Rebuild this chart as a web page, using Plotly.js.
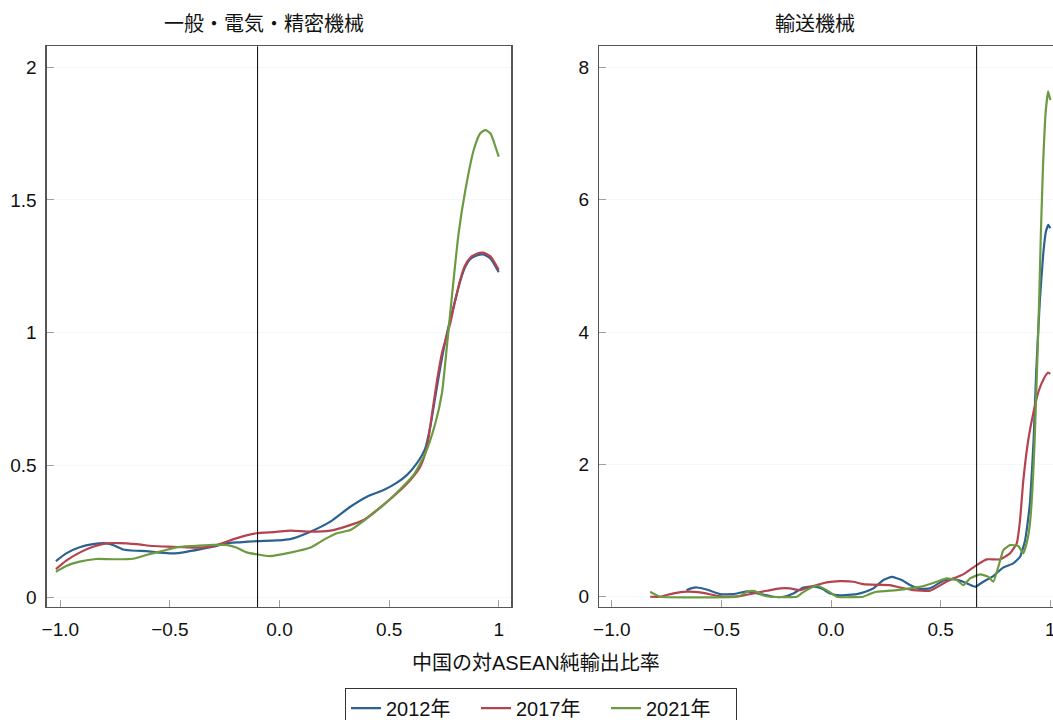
<!DOCTYPE html>
<html>
<head>
<meta charset="utf-8">
<script src="https://cdn.plot.ly/plotly-3.0.1.min.js"></script>
<style>
  html, body { margin: 0; padding: 0; background: #fff; overflow: hidden; }
  #chart { width: 1072px; height: 720px; }
</style>
</head>
<body>
<div id="chart"></div>
<script>
// ---------- data ----------
const seriesNames = ['2012年', '2017年', '2021年'];
const panelTitles = ['一般・電気・精密機械', '輸送機械'];
const xAxisTitle = '中国の対ASEAN純輸出比率';

// Left panel: 一般・電気・精密機械
const xL2012 = [-1.02, -0.973, -0.912, -0.851, -0.79, -0.76, -0.714, -0.653, -0.608, -0.547, -0.486, -0.425, -0.364, -0.303, -0.243, -0.182, -0.106, -0.015, 0.049, 0.141, 0.232, 0.323, 0.399, 0.475, 0.536, 0.582, 0.627, 0.665, 0.688, 0.711, 0.734, 0.764, 0.802, 0.825, 0.845, 0.87, 0.9, 0.93, 0.962, 1.0];
const yL2012 = [0.138, 0.167, 0.190, 0.202, 0.205, 0.199, 0.182, 0.177, 0.176, 0.170, 0.167, 0.173, 0.182, 0.192, 0.205, 0.209, 0.213, 0.216, 0.221, 0.249, 0.287, 0.343, 0.381, 0.406, 0.434, 0.463, 0.507, 0.563, 0.645, 0.758, 0.871, 0.997, 1.123, 1.195, 1.243, 1.276, 1.290, 1.294, 1.279, 1.227];

const xL2017 = [-1.02, -0.973, -0.912, -0.851, -0.79, -0.729, -0.653, -0.577, -0.486, -0.395, -0.319, -0.273, -0.212, -0.151, -0.106, -0.015, 0.049, 0.141, 0.232, 0.308, 0.384, 0.46, 0.536, 0.597, 0.642, 0.673, 0.696, 0.719, 0.741, 0.779, 0.80, 0.825, 0.845, 0.87, 0.9, 0.93, 0.962, 1.0];
const yL2017 = [0.108, 0.140, 0.170, 0.192, 0.205, 0.206, 0.202, 0.195, 0.192, 0.189, 0.192, 0.202, 0.220, 0.235, 0.243, 0.248, 0.253, 0.249, 0.253, 0.270, 0.293, 0.341, 0.394, 0.444, 0.494, 0.569, 0.695, 0.821, 0.922, 1.035, 1.115, 1.200, 1.250, 1.282, 1.297, 1.301, 1.287, 1.236];

const xL2021 = [-1.02, -0.973, -0.912, -0.836, -0.76, -0.668, -0.608, -0.531, -0.471, -0.395, -0.303, -0.243, -0.197, -0.151, -0.106, -0.045, 0.049, 0.141, 0.201, 0.262, 0.323, 0.399, 0.475, 0.551, 0.612, 0.665, 0.711, 0.741, 0.756, 0.771, 0.787, 0.817, 0.848, 0.886, 0.916, 0.939, 0.962, 0.985, 1.0];
const yL2021 = [0.098, 0.120, 0.136, 0.146, 0.145, 0.147, 0.161, 0.177, 0.190, 0.195, 0.199, 0.199, 0.189, 0.171, 0.164, 0.157, 0.170, 0.189, 0.218, 0.243, 0.255, 0.299, 0.350, 0.409, 0.463, 0.544, 0.658, 0.771, 0.884, 1.009, 1.140, 1.374, 1.537, 1.688, 1.751, 1.763, 1.751, 1.701, 1.663];

// Right panel: 輸送機械
const xR2012 = [-0.659, -0.635, -0.612, -0.567, -0.506, -0.445, -0.384, -0.323, -0.263, -0.217, -0.172, -0.126, -0.081, -0.04, -0.005, 0.041, 0.117, 0.160, 0.193, 0.239, 0.277, 0.322, 0.36, 0.406, 0.451, 0.512, 0.558, 0.603, 0.657, 0.694, 0.740, 0.786, 0.831, 0.862, 0.885, 0.896, 0.908, 0.924, 0.936, 0.952, 0.968, 0.98, 0.991, 1.0];
const yR2012 = [0.10, 0.13, 0.14, 0.11, 0.04, 0.04, 0.08, 0.04, 0.0, 0.0, 0.05, 0.14, 0.156, 0.12, 0.05, 0.02, 0.04, 0.08, 0.126, 0.252, 0.30, 0.252, 0.177, 0.116, 0.126, 0.242, 0.267, 0.227, 0.151, 0.227, 0.313, 0.444, 0.504, 0.605, 0.85, 1.1, 1.45, 2.38, 3.42, 4.46, 5.19, 5.52, 5.62, 5.57];

const xR2017 = [-0.825, -0.78, -0.719, -0.659, -0.597, -0.537, -0.491, -0.415, -0.354, -0.293, -0.232, -0.187, -0.141, -0.081, -0.020, 0.041, 0.102, 0.147, 0.215, 0.269, 0.315, 0.375, 0.451, 0.512, 0.558, 0.603, 0.664, 0.710, 0.771, 0.816, 0.847, 0.862, 0.877, 0.90, 0.924, 0.947, 0.971, 0.99, 1.0];
const yR2017 = [0.0, 0.0, 0.05, 0.076, 0.065, 0.026, 0.0, 0.01, 0.05, 0.09, 0.126, 0.126, 0.10, 0.161, 0.217, 0.235, 0.227, 0.19, 0.18, 0.176, 0.14, 0.10, 0.09, 0.20, 0.278, 0.338, 0.479, 0.565, 0.565, 0.655, 0.806, 1.16, 1.76, 2.38, 2.80, 3.11, 3.30, 3.39, 3.37];

const xR2021 = [-0.825, -0.80, -0.78, -0.43, -0.40, -0.384, -0.354, -0.330, -0.308, -0.278, -0.156, -0.135, -0.111, -0.065, -0.020, 0.026, 0.147, 0.175, 0.208, 0.300, 0.360, 0.421, 0.482, 0.527, 0.573, 0.603, 0.634, 0.680, 0.718, 0.740, 0.763, 0.786, 0.816, 0.854, 0.877, 0.895, 0.907, 0.918, 0.928, 0.939, 0.949, 0.957, 0.967, 0.979, 0.99, 1.0];
const yR2021 = [0.076, 0.03, 0.0, 0.0, 0.04, 0.076, 0.09, 0.06, 0.02, 0.0, 0.0, 0.05, 0.10, 0.17, 0.10, 0.0, 0.0, 0.04, 0.076, 0.10, 0.126, 0.161, 0.227, 0.277, 0.252, 0.177, 0.277, 0.338, 0.30, 0.227, 0.453, 0.706, 0.781, 0.766, 0.656, 0.85, 1.1, 1.6, 2.3, 3.4, 4.46, 5.49, 6.53, 7.33, 7.64, 7.51];

const refLineLeft = -0.1;
const refLineRight = 0.664;

const xTickVals = [-1, -0.5, 0, 0.5, 1];
const xTickText = ['\u22121.0', '\u22120.5', '0.0', '0.5', '1'];
const yTickValsL = [0, 0.5, 1, 1.5, 2];
const yTickTextL = ['0', '0.5', '1', '1.5', '2'];
const yTickValsR = [0, 2, 4, 6, 8];
const yTickTextR = ['0', '2', '4', '6', '8'];

// ---------- styling ----------
const colors = ['#2b6292', '#b5424f', '#6c9a40'];
const FONT = 'Liberation Sans, Arial, Noto Sans CJK JP, sans-serif';

const leftX = [xL2012, xL2017, xL2021];
const leftY = [yL2012, yL2017, yL2021];
const rightX = [xR2012, xR2017, xR2021];
const rightY = [yR2012, yR2017, yR2021];

const traces = [];
for (let i = 0; i < 3; i++) {
  traces.push({
    x: leftX[i], y: leftY[i], xaxis: 'x', yaxis: 'y',
    type: 'scatter', mode: 'lines', name: seriesNames[i], legendgroup: seriesNames[i],
    line: { color: colors[i], width: 2.2, shape: 'spline', smoothing: 0.6 },
    showlegend: true, hoverinfo: 'skip'
  });
}
for (let i = 0; i < 3; i++) {
  traces.push({
    x: rightX[i], y: rightY[i], xaxis: 'x2', yaxis: 'y2',
    type: 'scatter', mode: 'lines', name: seriesNames[i], legendgroup: seriesNames[i],
    line: { color: colors[i], width: 2.2, shape: 'spline', smoothing: 0.4 },
    showlegend: false, hoverinfo: 'skip'
  });
}

const W = 1072, H = 720;
const yDom = [(H - 607) / H, (H - 46.3) / H];

const axisCommon = {
  ticks: 'inside', ticklen: 7, tickcolor: '#a0a0a0', tickwidth: 1,
  showline: true, linecolor: '#555', linewidth: 1.3, mirror: true,
  zeroline: false, showgrid: false,
  tickfont: { family: FONT, size: 19, color: '#111' },
  ticklabelstandoff: 5, automargin: false
};

const layout = {
  width: W, height: H,
  margin: { l: 0, r: 0, t: 0, b: 0, autoexpand: false },
  paper_bgcolor: '#fff', plot_bgcolor: '#fff',
  font: { family: FONT, size: 19, color: '#111' },
  xaxis: Object.assign({}, axisCommon, {
    domain: [46.7 / W, 511.2 / W], range: [-1.062, 1.057], anchor: 'y',
    tickmode: 'array', tickvals: xTickVals, ticktext: xTickText
  }),
  yaxis: Object.assign({}, axisCommon, {
    domain: yDom, range: [-0.035, 2.079], anchor: 'x',
    tickmode: 'array', tickvals: yTickValsL, ticktext: yTickTextL,
    showgrid: true, gridcolor: '#f1f9f9'
  }),
  xaxis2: Object.assign({}, axisCommon, {
    domain: [599.3 / W, 1062.8 / W], range: [-1.057, 1.057], anchor: 'y2',
    tickmode: 'array', tickvals: xTickVals, ticktext: xTickText
  }),
  yaxis2: Object.assign({}, axisCommon, {
    domain: yDom, range: [-0.155, 8.32], anchor: 'x2',
    tickmode: 'array', tickvals: yTickValsR, ticktext: yTickTextR,
    showgrid: true, gridcolor: '#f1f9f9'
  }),
  shapes: [
    { type: 'line', xref: 'x', yref: 'y domain', x0: refLineLeft, x1: refLineLeft, y0: 0, y1: 1,
      line: { color: '#000', width: 1 } },
    { type: 'line', xref: 'x2', yref: 'y2 domain', x0: refLineRight, x1: refLineRight, y0: 0, y1: 1,
      line: { color: '#000', width: 1 } }
  ],
  annotations: [
    { text: panelTitles[0], xref: 'paper', yref: 'paper', x: 263.7 / W, y: (H - 24.5) / H,
      xanchor: 'center', yanchor: 'middle', showarrow: false, font: { family: FONT, size: 20, color: '#111' } },
    { text: panelTitles[1], xref: 'paper', yref: 'paper', x: 815 / W, y: (H - 24.5) / H,
      xanchor: 'center', yanchor: 'middle', showarrow: false, font: { family: FONT, size: 20, color: '#111' } },
    { text: xAxisTitle, xref: 'paper', yref: 'paper', x: 536 / W, y: (H - 662.5) / H,
      xanchor: 'center', yanchor: 'middle', showarrow: false, font: { family: FONT, size: 20, color: '#111' } }
  ],
  showlegend: true,
  legend: {
    orientation: 'h', x: 541 / W, xanchor: 'center', y: (H - 687.7) / H, yanchor: 'top',
    bordercolor: '#333', borderwidth: 1, bgcolor: '#fff',
    font: { family: FONT, size: 20, color: '#111' },
    entrywidth: 85, entrywidthmode: 'pixels', traceorder: 'normal'
  }
};

Plotly.newPlot('chart', traces, layout, { displayModeBar: false, staticPlot: true });
</script>
</body>
</html>
